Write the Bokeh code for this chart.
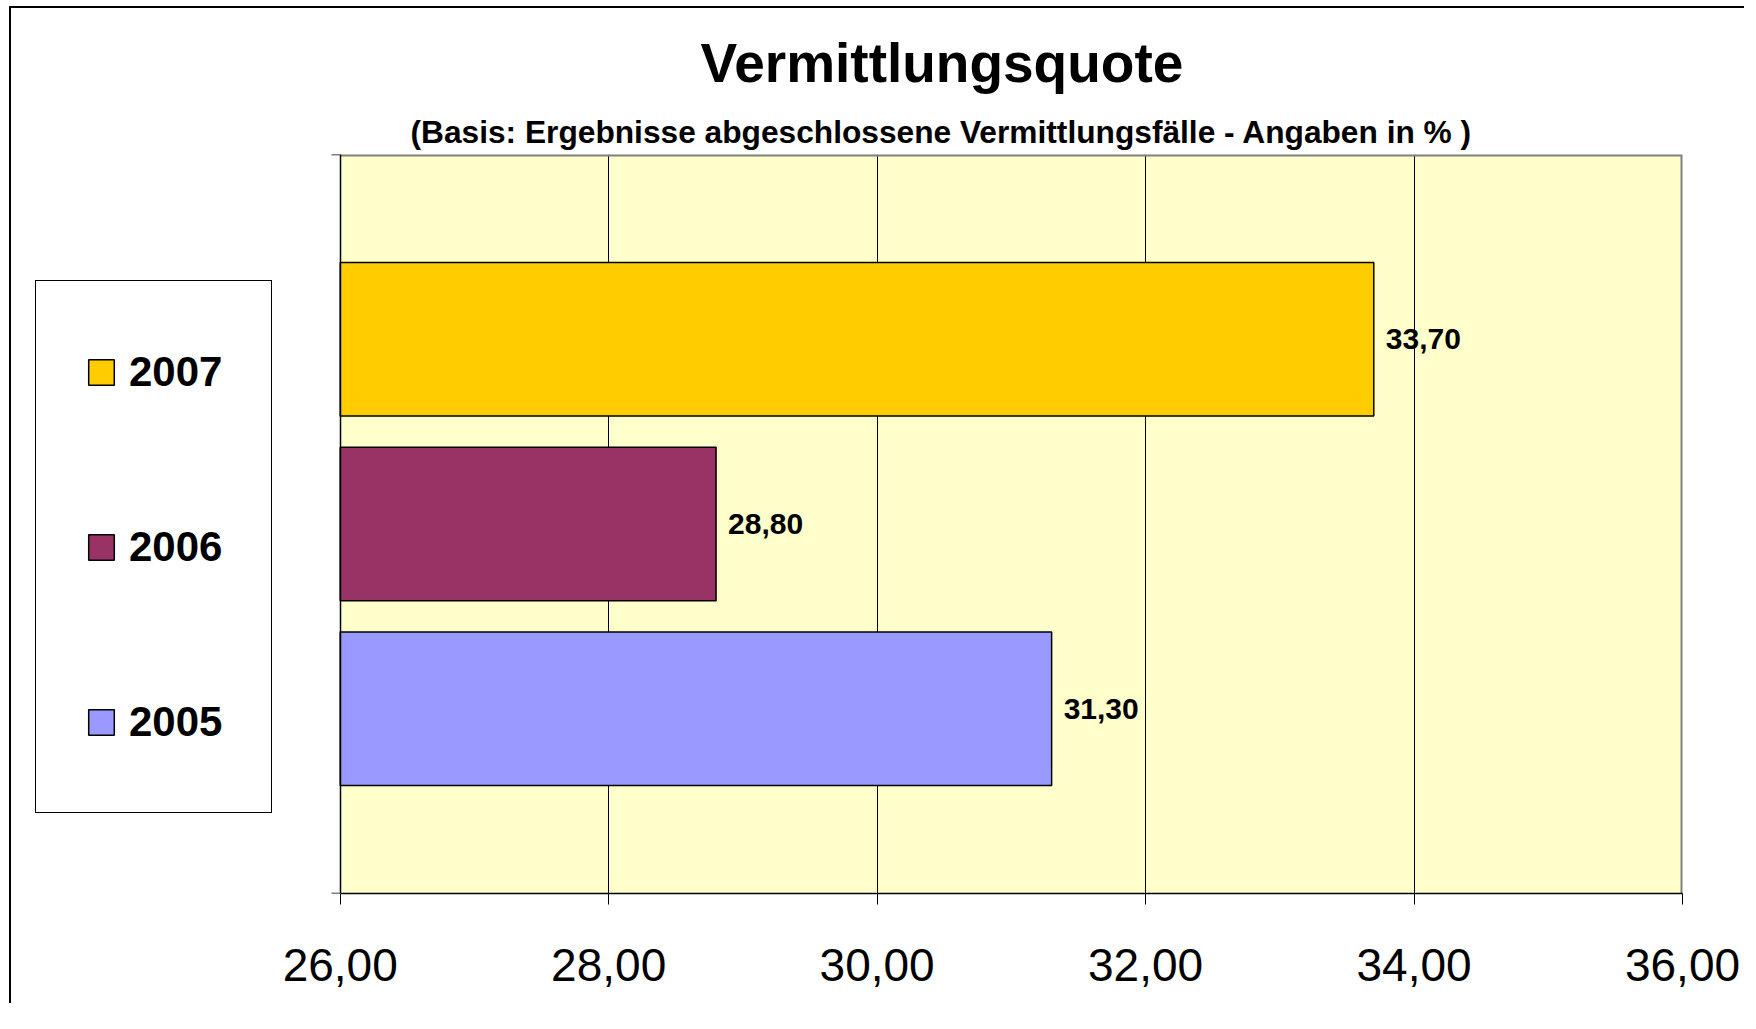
from bokeh.plotting import figure
from bokeh.layouts import row
from bokeh.models import (ColumnDataSource, FixedTicker, Legend, LegendItem, LabelSet, Title,
                          BoxAnnotation)
from bokeh.core.properties import value
from bokeh.embed import file_html
from bokeh.resources import INLINE

# ---- data ----
years = ["2005", "2006", "2007"]
values = [31.30, 28.80, 33.70]
colors = ["#9999FF", "#993366", "#FFCC00"]
x_ticks = [26, 28, 30, 32, 34, 36]
x_tick_labels = ["26,00", "28,00", "30,00", "32,00", "34,00", "36,00"]
title_text = "Vermittlungsquote"
subtitle_text = "(Basis: Ergebnisse abgeschlossene Vermittlungsfälle - Angaben in % )"

FONT = "Liberation Sans"

slots = [i + 1 for i in range(len(years))]
labels = [f"{v:.2f}".replace(".", ",") for v in values]
src = ColumnDataSource(dict(y=slots, value=values, color=colors, label=labels, year=years))
Y_TOP = len(years) + 1

# the frame also holds the legend area to the left of the value axis start
X_START = 23.7
p = figure(frame_width=1651, frame_height=739, title=title_text,
           x_range=(X_START, x_ticks[-1]), y_range=(0, Y_TOP),
           output_backend="svg", toolbar_location=None,
           min_border_left=20, min_border_top=0, min_border_right=62, min_border_bottom=110)
p.margin = (7, 0, 0, 0)

p.background_fill_color = "white"
p.border_fill_color = "white"
p.outline_line_color = None

# plot area (value axis extent)
p.add_layout(BoxAnnotation(left=x_ticks[0], right=x_ticks[-1], fill_color="#FFFFCC", fill_alpha=1.0,
                           line_color=None, level="image"))
# grey top / right border of the plot area (half of the width is clipped by the frame)
p.line(x=[x_ticks[0], x_ticks[-1], x_ticks[-1]], y=[Y_TOP, Y_TOP, 0],
       line_color="#808080", line_width=4)

bars = p.hbar(y="y", left=x_ticks[0], right="value", height=0.83, source=src,
              fill_color="color", line_color="black", line_width=1.5)

p.xaxis.bounds = (x_ticks[0], x_ticks[-1])
p.xaxis.ticker = FixedTicker(ticks=x_ticks)
p.xaxis.major_label_overrides = {t: l for t, l in zip(x_ticks, x_tick_labels)}
p.xaxis.major_label_text_font = FONT
p.xaxis.major_label_text_font_size = "46px"
p.xaxis.major_label_text_color = "black"
p.xaxis.major_label_standoff = 44
p.xaxis.major_tick_out = 11
p.xaxis.major_tick_in = 0
p.xaxis.minor_tick_line_color = None
p.xaxis.axis_line_color = "black"
p.xaxis.axis_line_width = 1.5
p.xaxis.major_tick_line_color = "black"

p.yaxis.fixed_location = x_ticks[0]
p.yaxis.ticker = FixedTicker(ticks=[0, Y_TOP])
p.yaxis.major_label_overrides = {0: "", Y_TOP: ""}
p.yaxis.major_label_standoff = 5
p.yaxis.major_tick_out = 9
p.yaxis.major_tick_in = 0
p.yaxis.minor_tick_line_color = None
p.yaxis.axis_line_color = "black"
p.yaxis.axis_line_width = 1.5
p.yaxis.major_tick_line_width = 1.5

p.xgrid.ticker = FixedTicker(ticks=x_ticks[1:-1])
p.xgrid.grid_line_color = "black"
p.xgrid.grid_line_width = 1
p.ygrid.grid_line_color = None

p.add_layout(LabelSet(x="value", y="y", text="label", source=src, x_offset=12,
                      text_baseline="middle", text_font=value(FONT), text_font_size="30px",
                      text_font_style="bold", text_color="black"))

# titles: main title on top, subtitle (added last) nearest the frame
p.title.align = "left"
p.title.offset = 669
p.title.text_font = FONT
p.title.text_font_size = "55px"
p.title.text_font_style = "bold"
p.title.text_color = "black"
p.title.standoff = 28
p.add_layout(Title(text=subtitle_text, align="left", offset=379, text_font=FONT,
                   text_font_size="31.7px", text_font_style="bold", text_color="black",
                   standoff=9), "above")

# legend (inside the frame, left of the plot area)
items = [LegendItem(label=years[i], renderers=[bars], index=i) for i in reversed(range(len(years)))]
legend = Legend(items=items, location=(4, 80), orientation="vertical",
                label_text_font=FONT, label_text_font_size="42px", label_text_font_style="bold",
                label_text_color="black",
                glyph_width=32, glyph_height=32, label_standoff=12,
                padding=49, spacing=92, label_height=83, margin=0,
                border_line_color="black", border_line_width=1, border_line_alpha=1.0,
                background_fill_color="white", background_fill_alpha=1.0)
p.add_layout(legend)

layout = row(p, spacing=0)
layout.margin = (6, 0, 0, 9)
layout.styles = {"border-left": "2px solid black", "border-top": "2px solid black"}

open("out.html", "w").write(file_html(layout, INLINE))
